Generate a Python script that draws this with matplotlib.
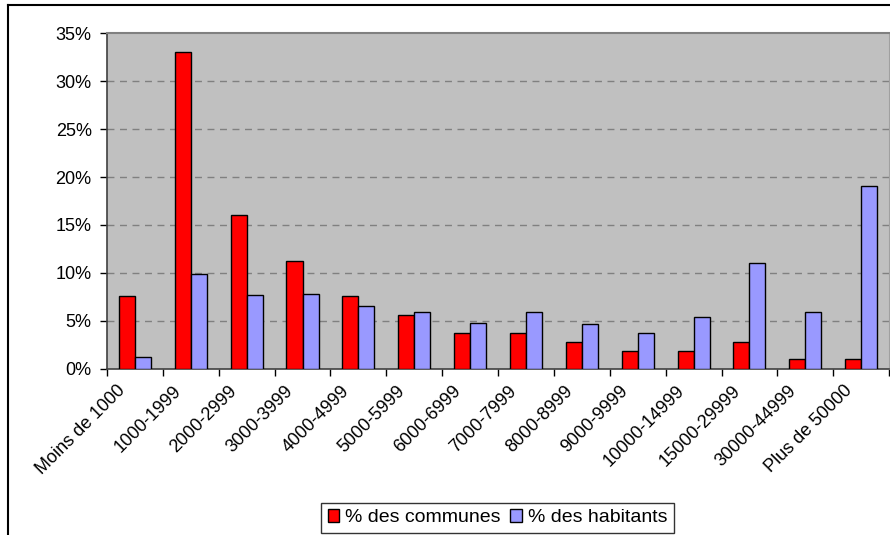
import numpy as np
import matplotlib.pyplot as plt
from matplotlib.lines import Line2D
from matplotlib.ticker import FuncFormatter, MultipleLocator
from matplotlib.transforms import ScaledTranslation

plt.rcParams['font.family'] = ['Liberation Sans', 'DejaVu Sans']

# données
categories = ['Moins de 1000', '1000-1999', '2000-2999', '3000-3999', '4000-4999',
              '5000-5999', '6000-6999', '7000-7999', '8000-8999', '9000-9999',
              '10000-14999', '15000-29999', '30000-44999', 'Plus de 50000']
communes = [7.6, 33.0, 16.0, 11.3, 7.6, 5.6, 3.7, 3.7, 2.85, 1.9, 1.9, 2.85, 1.0, 1.0]
habitants = [1.3, 9.9, 7.7, 7.85, 6.6, 5.97, 4.8, 5.9, 4.7, 3.7, 5.45, 11.0, 5.9, 19.1]

fig = plt.figure(figsize=(8.9, 5.35), dpi=100)
ax = fig.add_axes([0.1202, 0.3103, 0.8788, 0.628])
ax.set_facecolor('#C0C0C0')

x = np.arange(len(categories))
w = 0.287
ax.bar(x - w / 2, communes, w, color='#FF0000', edgecolor='black', linewidth=1,
       label='% des communes', zorder=3)
ax.bar(x + w / 2, habitants, w, color='#9999FF', edgecolor='black', linewidth=1,
       label='% des habitants', zorder=3)

ax.set_xlim(-0.5, len(categories) - 0.5)
ax.set_ylim(0, 35)
ax.yaxis.set_major_locator(MultipleLocator(5))
ax.yaxis.set_major_formatter(FuncFormatter(lambda v, p: f'{v:.0f}%'))
for v in range(5, 35, 5):
    ax.axhline(v, color='#808080', ls=(0, (5, 4)), lw=1, zorder=1)

# ticks entre les catégories
ax.set_xticks(np.arange(-0.5, len(categories), 1))
ax.set_xticklabels([])
ax.set_xticks(x, minor=True)
ax.set_xticklabels(categories, minor=True, rotation=45, ha='right',
                   va='center', rotation_mode='anchor', fontsize=13)
ax.tick_params(axis='x', which='minor', length=0, pad=14)
ax.tick_params(axis='x', which='major', length=5, width=1, direction='out')
ax.tick_params(axis='y', length=5, width=1, direction='out', labelsize=13, pad=6)
decal = ScaledTranslation(-0.12, 0, fig.dpi_scale_trans)
for lab in ax.get_xticklabels(minor=True):
    lab.set_transform(lab.get_transform() + decal)

for s in ['left', 'bottom']:
    ax.spines[s].set_color('#404040')
    ax.spines[s].set_linewidth(1.2)
ax.spines['top'].set_color('#808080')
ax.spines['top'].set_linewidth(1.5)
ax.spines['right'].set_color('#A0A0A0')

fig.legend(loc='center', bbox_to_anchor=(0.559, 0.032), ncol=2, fontsize=14,
           frameon=True, fancybox=False, edgecolor='black', handlelength=0.6,
           handleheight=0.6, handletextpad=0.3, columnspacing=0.5,
           borderpad=0.35, borderaxespad=0)

# cadre du graphique (coupé à droite et en bas)
fig.add_artist(Line2D([0.009, 0.009], [0, 0.9915], color='black', lw=1.5,
                      transform=fig.transFigure))
fig.add_artist(Line2D([0.009, 1], [0.9915, 0.9915], color='black', lw=1.5,
                      transform=fig.transFigure))

fig.savefig('out.png', dpi=100)
